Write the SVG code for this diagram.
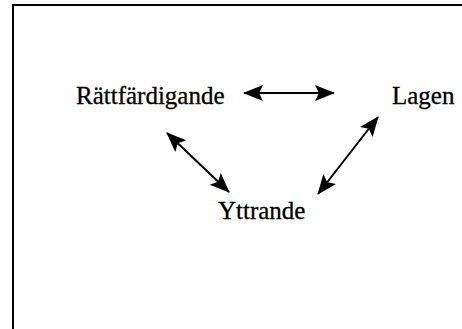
<svg xmlns="http://www.w3.org/2000/svg" width="462" height="329" viewBox="0 0 462 329">
<defs>
<style>
.lbl{font-family:"Liberation Serif","Times New Roman",serif;font-size:25px;fill:#000;stroke:#000;stroke-width:0.3}
.con{stroke:#000;stroke-width:2;fill:none}
</style>
<marker id="ah" markerUnits="userSpaceOnUse" markerWidth="20" markerHeight="18" refX="19" refY="9" orient="auto-start-reverse" viewBox="0 0 20 18">
<path d="M0,1 L20,9 L0,17 L4,9 Z" fill="#000"/>
</marker>
</defs>
<rect width="462" height="329" fill="#fff"/>
<path d="M13,329 L13,5 L462,5" stroke="#000" stroke-width="2" fill="none"/>
<g id="n-ratt"><text class="lbl" x="76" y="104">Rättfärdigande</text></g>
<g id="n-lagen"><text class="lbl" x="392" y="104">Lagen</text></g>
<g id="n-yttrande"><text class="lbl" x="218" y="219">Yttrande</text></g>
<g id="connectors">
<line class="con" x1="244" y1="93" x2="334" y2="93" marker-start="url(#ah)" marker-end="url(#ah)"/>
<line class="con" x1="167" y1="133" x2="229" y2="192" marker-start="url(#ah)" marker-end="url(#ah)"/>
<line class="con" x1="378" y1="117" x2="318" y2="194" marker-start="url(#ah)" marker-end="url(#ah)"/>
</g>
</svg>
